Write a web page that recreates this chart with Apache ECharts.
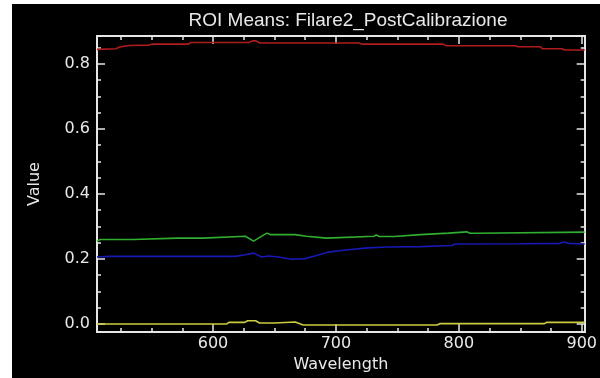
<!DOCTYPE html>
<html>
<head>
<meta charset="utf-8">
<script src="https://cdn.jsdelivr.net/npm/echarts@6/dist/echarts.min.js"></script>
<style>
  html, body { margin: 0; padding: 0; background: #ffffff; }
  #bg { position: absolute; left: 12px; top: 4px; width: 588px; height: 374px; background: #000000; }
  #chart { position: absolute; left: 0; top: 0; width: 600px; height: 378px; }
</style>
</head>
<body>
<div id="bg"></div>
<div id="chart"></div>
<script>
// ---- Data ----
const titleText = 'ROI Means: Filare2_PostCalibrazione';
const xName = 'Wavelength';
const yName = 'Value';

const xMin = 505.6, xMax = 902.4;
const yMin = -0.025, yMax = 0.886;

const xMajorTicks = [600, 700, 800, 900];
const xMinorTicks = [525, 550, 575, 625, 650, 675, 725, 750, 775, 825, 850, 875];
const yMajorTicks = [0, 0.2, 0.4, 0.6, 0.8];
const yMinorTicks = [0.05, 0.1, 0.15, 0.25, 0.3, 0.35, 0.45, 0.5, 0.55, 0.65, 0.7, 0.75, 0.85];

const redWl  = [505.6, 521, 524, 532, 548, 550, 580, 582, 629, 632, 635, 638, 719, 721, 787, 790, 846, 848, 866, 868, 884, 886, 902.4];
const redVal = [0.845, 0.847, 0.852, 0.857, 0.858, 0.861, 0.861, 0.866, 0.866, 0.871, 0.871, 0.8645, 0.8645, 0.861, 0.861, 0.856, 0.856, 0.853, 0.853, 0.847, 0.847, 0.843, 0.843];

const greenWl  = [505.6, 508, 534.9, 535.7, 571.2, 572.5, 575.2, 591.4, 592.7, 626.3, 633.0, 643.8, 646.5, 666.6, 668.0, 676.0, 677.4, 692.2, 693.5, 731.1, 732.8, 735.2, 747.3, 748.6, 768.8, 770.1, 791.6, 793.0, 806.4, 809.1, 814.5, 815.8, 902.4];
const greenVal = [0.254, 0.260, 0.260, 0.264, 0.264, 0.270, 0.264, 0.264, 0.270, 0.270, 0.255, 0.2795, 0.275, 0.275, 0.270, 0.270, 0.264, 0.264, 0.270, 0.270, 0.274, 0.269, 0.269, 0.275, 0.275, 0.2795, 0.2795, 0.2835, 0.2835, 0.279, 0.279, 0.2826, 0.2826];

const blueWl  = [505.6, 516.1, 618.2, 626.3, 633.0, 639.7, 645.1, 653.2, 663.9, 674.7, 682.8, 693.5, 704.3, 725.8, 741.9, 768.8, 794.3, 797.0, 849.4, 881.7, 885.7, 889.7, 902.4];
const blueVal = [0.206, 0.208, 0.208, 0.213, 0.218, 0.206, 0.209, 0.206, 0.199, 0.201, 0.209, 0.221, 0.226, 0.234, 0.237, 0.238, 0.2416, 0.246, 0.247, 0.248, 0.252, 0.248, 0.246];

const yellowWl  = [505.6, 611.2, 612.9, 625.8, 628.2, 634.6, 637.9, 650.0, 651.6, 666.9, 673.3, 782.2, 784.6, 869.3, 871.7, 902.4];
const yellowVal = [0.0, 0.0, 0.005, 0.005, 0.010, 0.010, 0.003, 0.003, 0.006, 0.006, -0.003, -0.003, 0.001, 0.001, 0.005, 0.005];

// ---- Build chart ----
const zip = (xs, ys) => xs.map((x, i) => [x, ys[i]]);
const axisColor = '#e6e6e6';
const textColor = '#e8e8e8';
const labelFont = 'DejaVu Sans';

function xAxisDef(position, ticks, len, withLabels) {
  return {
    type: 'value', position: position, min: xMin, max: xMax,
    axisLine: { show: true, onZero: false, lineStyle: { color: axisColor, width: 2 } },
    axisTick: { show: true, inside: true, length: len, customValues: ticks, lineStyle: { color: axisColor, width: 1.5 } },
    axisLabel: withLabels ? { show: true, customValues: ticks, color: textColor, fontFamily: labelFont, fontSize: 16, margin: 4 } : { show: false },
    splitLine: { show: false }
  };
}
function yAxisDef(position, ticks, len, withLabels) {
  return {
    type: 'value', position: position, min: yMin, max: yMax,
    axisLine: { show: true, onZero: false, lineStyle: { color: axisColor, width: 2 } },
    axisTick: { show: true, inside: true, length: len, customValues: ticks, lineStyle: { color: axisColor, width: 1.5 } },
    axisLabel: withLabels ? { show: true, customValues: ticks, color: textColor, fontFamily: labelFont, fontSize: 16, margin: 7,
      formatter: v => v.toFixed(1) } : { show: false },
    splitLine: { show: false }
  };
}

const xAxes = [
  Object.assign(xAxisDef('bottom', xMajorTicks, 8, true), {
    name: xName, nameLocation: 'middle', nameGap: 20,
    nameTextStyle: { color: textColor, fontFamily: labelFont, fontSize: 16 }
  }),
  xAxisDef('bottom', xMinorTicks, 4, false),
  xAxisDef('top', xMajorTicks, 8, false),
  xAxisDef('top', xMinorTicks, 4, false)
];
const yAxes = [
  Object.assign(yAxisDef('left', yMajorTicks, 8, true), {
    name: yName, nameLocation: 'middle', nameGap: 54,
    nameTextStyle: { color: textColor, fontFamily: labelFont, fontSize: 16 }
  }),
  yAxisDef('left', yMinorTicks, 4, false),
  yAxisDef('right', yMajorTicks, 8, false),
  yAxisDef('right', yMinorTicks, 4, false)
];

const lineSeries = (name, wl, val, color) => ({
  name: name, type: 'line', xAxisIndex: 0, yAxisIndex: 0,
  data: zip(wl, val), showSymbol: false, symbol: 'none',
  lineStyle: { color: color, width: 1.6 }, animation: false, silent: true
});

const chart = echarts.init(document.getElementById('chart'), null, { renderer: 'canvas' });
chart.setOption({
  backgroundColor: 'transparent',
  animation: false,
  title: {
    text: titleText, left: 343, top: 6, textAlign: 'center',
    textStyle: { color: textColor, fontFamily: 'Liberation Sans', fontWeight: 'normal', fontSize: 19 }
  },
  grid: { left: 97, right: 11, top: 36, bottom: 44, containLabel: false },
  xAxis: xAxes,
  yAxis: yAxes,
  series: [
    lineSeries('red', redWl, redVal, '#b01c1c'),
    lineSeries('green', greenWl, greenVal, '#2fae2f'),
    lineSeries('blue', blueWl, blueVal, '#1818b4'),
    lineSeries('yellow', yellowWl, yellowVal, '#cccc40')
  ]
});
</script>
</body>
</html>
